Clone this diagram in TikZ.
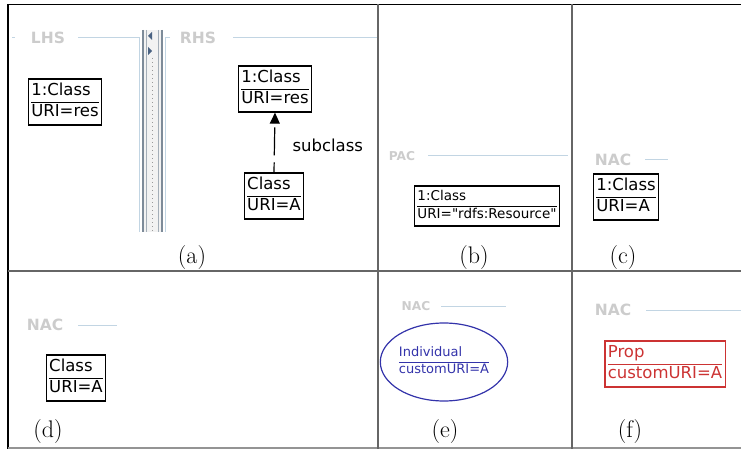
\documentclass[tikz,border=0pt]{standalone}
\usepackage{fontspec}
\usetikzlibrary{positioning,shapes.geometric,arrows.meta}
\newfontfamily\uifont{DejaVu Sans}
\definecolor{titlegray}{HTML}{CCCCCC}
\definecolor{frameblue}{HTML}{C2D5E3}
\definecolor{indblue}{HTML}{3333AA}
\definecolor{propred}{HTML}{CC3333}
\definecolor{rulegray}{HTML}{666666}
\definecolor{splitgray}{HTML}{7D8B99}
\definecolor{splitblue}{HTML}{4A6282}
\setlength{\arrayrulewidth}{1pt}
\newcommand{\umltext}[2]{\begin{tabular}{@{}l@{}}#1\\[1pt]\hline #2\end{tabular}}

\begin{document}
\begin{tikzpicture}[x=1pt,y=-1pt,
    umlbox/.style={draw,line width=1.3pt,inner sep=3pt,
      font=\uifont\fontsize{16.5}{19}\selectfont},
    smallbox/.style={umlbox,font=\uifont\fontsize{13.5}{16}\selectfont},
    frametitle/.style={text=titlegray,inner sep=0pt,
      font=\uifont\bfseries\fontsize{15.5}{18}\selectfont},
    smalltitle/.style={frametitle,font=\uifont\bfseries\fontsize{12.2}{14}\selectfont},
    frameline/.style={draw=frameblue,line width=1pt},
    sublabel/.style={font=\fontsize{24}{28}\selectfont}]
  \useasboundingbox (0,0) rectangle (741,449);

  % table rules
  \draw[line width=1.2pt] (8,4.5) -- (741,4.5);
  \draw[line width=1.2pt] (8,4.5) -- (8,449);
  \draw[rulegray,line width=1.2pt] (8,271) -- (741,271);
  \draw[rulegray!70,line width=1.2pt] (8,448) -- (741,448);
  \draw[rulegray,line width=1.2pt] (378,4.5) -- (378,449);
  \draw[rulegray,line width=1.2pt] (572,4.5) -- (572,449);

  % (a) LHS / RHS
  \node[frametitle] (lhs) at (48,38) {LHS};
  \draw[frameline] (12,38) -- (15,38);
  \draw[frameline] (78,38) -- (139,38) -- (139,232);
  \fill[gray!10] (143,30) rectangle (162,232);
  \draw[splitgray,line width=1.2pt] (143,30) -- (143,232) (162,30) -- (162,232);
  \draw[splitgray!70,line width=1pt] (146.5,30) -- (146.5,232) (158.5,30) -- (158.5,232);
  \draw[gray!80,line width=1.2pt,dash pattern=on 1pt off 3pt] (152.5,58) -- (152.5,232);
  \fill[splitblue] (148,36) -- (152,32) -- (152,40) -- cycle;
  \fill[splitblue] (148,47) -- (152,51) -- (148,55) -- cycle;
  \node[frametitle] (rhs) at (198,38) {RHS};
  \draw[frameline] (170,38) -- (165,38) -- (165,232);
  \draw[frameline] (233,38) -- (377,38);

  \node[umlbox] (lhsclass) at (65,102) {\umltext{1:Class}{URI=res}};
  \node[umlbox] (rhsclass) at (275,89) {\umltext{1:Class}{URI=res}};
  \node[umlbox] (subclass) at (274,196) {\umltext{Class}{URI=A}};
  \draw[line width=1.2pt,dash pattern=on 10pt off 7pt on 28pt off 10pt,
    -{Triangle[length=11pt,width=10pt]}] (subclass.north) -- (rhsclass.south);
  \node[font=\uifont\fontsize{16.5}{19}\selectfont,anchor=west] (sublbl) at (289,145) {subclass};
  \node[sublabel] (capa) at (192,258) {(a)};

  % (b) PAC
  \node[smalltitle] (pac) at (402,156) {PAC};
  \draw[frameline] (428,156) -- (568,156);
  \node[smallbox] (resclass) at (487,206) {\umltext{1:Class}{URI="rdfs:Resource"}};
  \node[sublabel] (capb) at (474,258) {(b)};

  % (c) NAC
  \node[frametitle] (nacc) at (613,160) {NAC};
  \draw[frameline] (645,160) -- (668,160);
  \node[umlbox] (nacclass) at (626,197) {\umltext{1:Class}{URI=A}};
  \node[sublabel] (capc) at (623,258) {(c)};

  % (d) NAC
  \node[frametitle] (nacd) at (45,325) {NAC};
  \draw[frameline] (78,325) -- (117,325);
  \node[umlbox] (nacdclass) at (76,378) {\umltext{Class}{URI=A}};
  \node[sublabel] (capd) at (48,432) {(d)};

  % (e) NAC
  \node[smalltitle] (nace) at (416,306) {NAC};
  \draw[frameline] (441,306) -- (506,306);
  \node[ellipse,draw=indblue,text=indblue,line width=1.2pt,inner sep=0pt,
    minimum width=102pt,minimum height=78pt,
    font=\uifont\fontsize{13}{15.5}\selectfont] (indiv) at (444,362)
    {\umltext{Individual}{customURI=A}};
  \node[sublabel] (cape) at (445,432) {(e)};

  % (f) NAC
  \node[frametitle] (nacf) at (613,310) {NAC};
  \draw[frameline] (646,310) -- (741,310);
  \node[umlbox,draw=propred,text=propred] (prop) at (665,364) {\umltext{Prop}{customURI=A}};
  \node[sublabel] (capf) at (630,432) {(f)};
\end{tikzpicture}
\end{document}
